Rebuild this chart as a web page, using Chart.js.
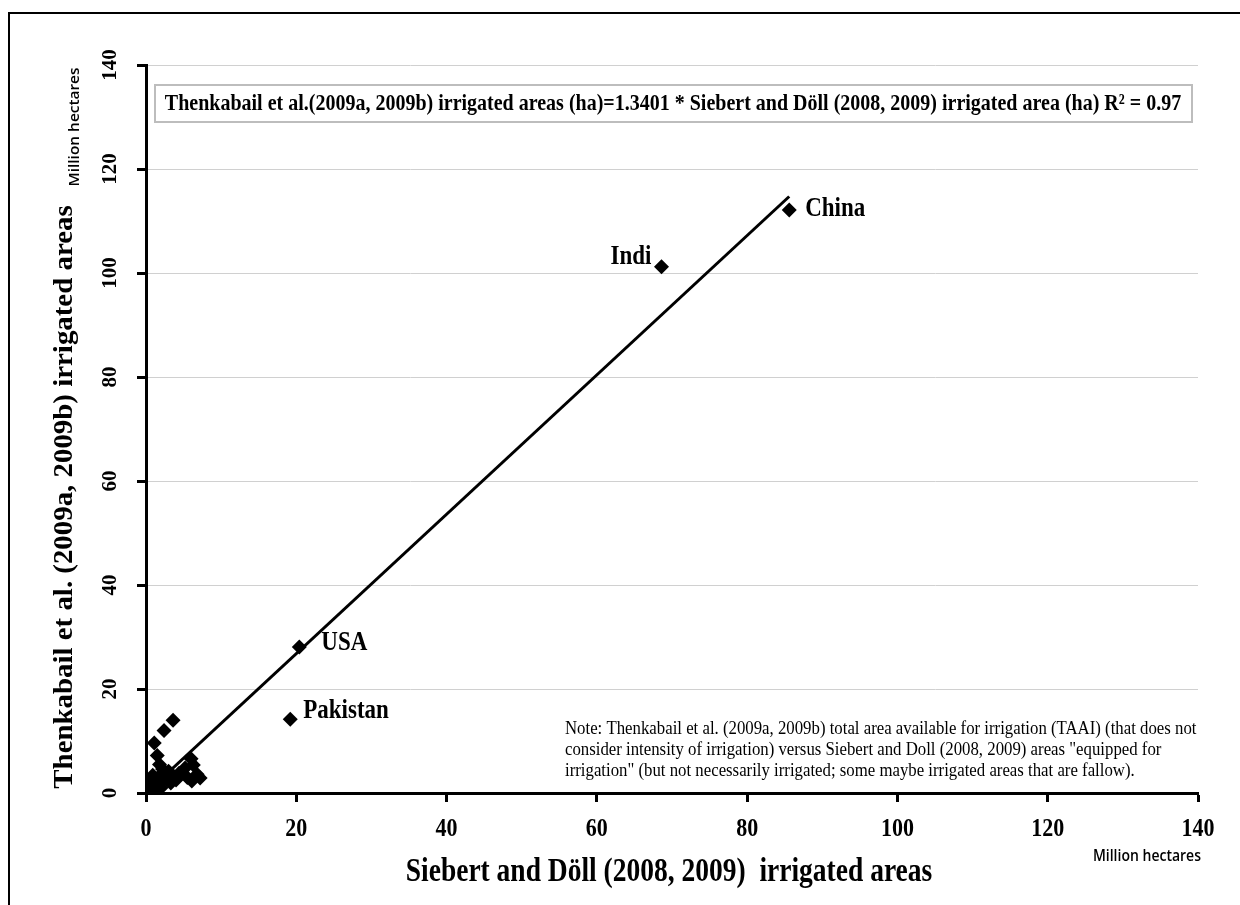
<!DOCTYPE html>
<html>
<head>
<meta charset="utf-8">
<title>Irrigated areas comparison</title>
<script src="https://cdn.jsdelivr.net/npm/chart.js@4.4.1/dist/chart.umd.min.js"></script>
<style>
  html, body { margin: 0; padding: 0; background: #fff; }
  #wrap { position: relative; width: 1240px; height: 905px; }
</style>
</head>
<body>
<div id="wrap"><canvas id="c" width="1240" height="905"></canvas></div>
<script>
// Country irrigated areas, million hectares: [Siebert & Döll, Thenkabail]
const namedCountries = ['China', 'Indi', 'USA', 'Pakistan'];
const namedX = [85.6, 68.6, 20.4, 19.2];
const namedY = [112.1, 101.2, 28.1, 14.2];

// Remaining countries (unlabelled cluster near the origin)
const otherX = [3.6, 2.4, 1.1, 1.5, 1.8, 2.2, 3.0, 3.4, 2.6, 4.4, 5.2, 6.0, 6.3, 6.8, 7.2, 6.1, 4.0, 3.3,
                2.8, 1.9, 1.4, 1.0, 0.8, 0.5, 0.3, 0.2, 0.6, 0.1, 1.2, 0.4, 2.0, 1.6, 0.9, 5.5, 0.0, 0.7];
const otherY = [14.0, 12.0, 9.6, 7.2, 5.5, 4.6, 4.2, 3.6, 3.2, 3.8, 4.8, 6.6, 5.4, 3.6, 2.9, 2.3, 2.5, 1.9,
                2.6, 2.2, 1.8, 2.5, 1.4, 0.9, 0.4, 1.2, 0.3, 0.1, 0.8, 2.0, 1.0, 3.0, 3.4, 3.0, 0.0, 0.6];

// Regression through the origin
const slope = 1.3401;
const rSquared = 0.97;

// Axis ticks
const tickValues = [0, 20, 40, 60, 80, 100, 120, 140];
const tickLabels = ['0', '20', '40', '60', '80', '100', '120', '140'];

const equationText = 'Thenkabail et al.(2009a, 2009b) irrigated areas (ha)=' + slope + ' * Siebert and Döll (2008, 2009) irrigated area (ha) R\u00B2 = ' + rSquared;
const xTitle = 'Siebert and Döll (2008, 2009)  irrigated areas';
const yTitle = 'Thenkabail et al. (2009a, 2009b) irrigated areas';
const unitText = 'Million hectares';
const noteLines = [
  'Note: Thenkabail et al. (2009a, 2009b) total area available for irrigation (TAAI) (that does not',
  'consider intensity of irrigation) versus Siebert and Doll (2008, 2009) areas "equipped for',
  'irrigation" (but not necessarily irrigated; some maybe irrigated areas that are fallow).'
];

const allX = namedX.concat(otherX);
const allY = namedY.concat(otherY);
const points = allX.map((x, i) => ({ x: x, y: allY[i] }));
const maxX = Math.max(...allX);
const trend = [{ x: 0, y: 0 }, { x: maxX, y: slope * maxX }];

const serif = '"Liberation Serif", "Times New Roman", serif';
const sans = '"Open Sans", "Liberation Sans", sans-serif';

// Tall, narrow lettering: text is stretched vertically by k
function tallText(ctx, text, x, y, k, rotated) {
  ctx.save();
  ctx.translate(x, y);
  ctx.scale(1, k);
  if (rotated) ctx.rotate(-Math.PI / 2);
  ctx.fillText(text, 0, 0);
  ctx.restore();
}

const decor = {
  id: 'decor',
  beforeDraw(chart) {
    const ctx = chart.ctx;
    ctx.save();
    ctx.fillStyle = '#fff';
    ctx.fillRect(0, 0, chart.width, chart.height);
    // outer frame
    ctx.strokeStyle = '#000';
    ctx.lineWidth = 2;
    ctx.beginPath();
    ctx.moveTo(9, 920);
    ctx.lineTo(9, 13);
    ctx.lineTo(1260, 13);
    ctx.stroke();
    ctx.restore();
  },
  afterDraw(chart) {
    const ctx = chart.ctx;
    const xs = chart.scales.x, ys = chart.scales.y;
    ctx.save();
    ctx.fillStyle = '#000';
    ctx.textAlign = 'center';
    ctx.textBaseline = 'middle';

    // y tick labels, rotated
    ctx.font = 'bold 21px ' + serif;
    tickValues.forEach((v, i) => {
      tallText(ctx, tickLabels[i], 111, ys.getPixelForValue(v), 1.0, true);
    });
    // x tick labels
    ctx.font = 'bold 22px ' + serif;
    tickValues.forEach((v, i) => {
      tallText(ctx, tickLabels[i], xs.getPixelForValue(v), 829, 1.17, false);
    });

    // axis titles
    ctx.font = 'bold 27.5px ' + serif;
    tallText(ctx, xTitle, 669, 873, 1.19, false);
    tallText(ctx, yTitle, 65, 497, 1.05, true);

    // unit labels
    ctx.font = '600 14px ' + sans;
    tallText(ctx, unitText, 75, 127, 1.1, true);
    ctx.textAlign = 'right';
    tallText(ctx, unitText, 1201, 857, 1.1, false);

    // equation box
    ctx.strokeStyle = '#bdbdbd';
    ctx.lineWidth = 2;
    ctx.strokeRect(155, 85, 1037, 37);
    ctx.textAlign = 'center';
    ctx.font = 'bold 20px ' + serif;
    tallText(ctx, equationText, 673, 104, 1.15, false);

    // country labels
    ctx.font = 'bold 23px ' + serif;
    const offsets = [[16, -1, 'left'], [-10, -10, 'right'], [22, -4, 'left'], [13, -8, 'left']];
    namedCountries.forEach((name, i) => {
      const px = xs.getPixelForValue(namedX[i]);
      const py = ys.getPixelForValue(namedY[i]);
      ctx.textAlign = offsets[i][2];
      tallText(ctx, name, px + offsets[i][0], py + offsets[i][1], 1.15, false);
    });

    // note
    ctx.font = '16.8px ' + serif;
    ctx.textAlign = 'left';
    noteLines.forEach((line, i) => tallText(ctx, line, 565, 729 + i * 21, 1.12, false));
    ctx.restore();
  }
};

new Chart(document.getElementById('c'), {
  type: 'scatter',
  data: {
    datasets: [
      {
        label: 'Countries',
        data: points,
        pointStyle: 'rectRot',
        pointRadius: 7.5,
        pointHoverRadius: 7.5,
        backgroundColor: '#000',
        borderColor: '#000',
        borderWidth: 0,
        order: 1
      },
      {
        label: 'Linear fit',
        type: 'line',
        data: trend,
        borderColor: '#000',
        borderWidth: 3,
        pointRadius: 0,
        fill: false,
        order: 2
      }
    ]
  },
  options: {
    responsive: false,
    animation: false,
    events: [],
    layout: { padding: { left: 0, top: 65, right: 42, bottom: 82 } },
    plugins: { legend: { display: false }, tooltip: { enabled: false } },
    scales: {
      x: {
        type: 'linear',
        min: 0, max: 140,
        afterBuildTicks(s) { s.ticks = tickValues.map(v => ({ value: v })); },
        afterFit(s) { s.height = 30; },
        ticks: { display: false },
        grid: { drawOnChartArea: false, drawTicks: true, tickLength: 9, tickColor: '#000', tickWidth: 3 },
        border: { display: true, color: '#000', width: 3 }
      },
      y: {
        type: 'linear',
        min: 0, max: 140,
        afterBuildTicks(s) { s.ticks = tickValues.map(v => ({ value: v })); },
        afterFit(s) { s.width = 146; },
        ticks: { display: false },
        grid: { color: '#d0d0d0', lineWidth: 1, drawTicks: true, tickLength: 9, tickColor: '#000', tickWidth: 3 },
        border: { display: true, color: '#000', width: 3 }
      }
    }
  },
  plugins: [decor]
});
</script>
</body>
</html>
